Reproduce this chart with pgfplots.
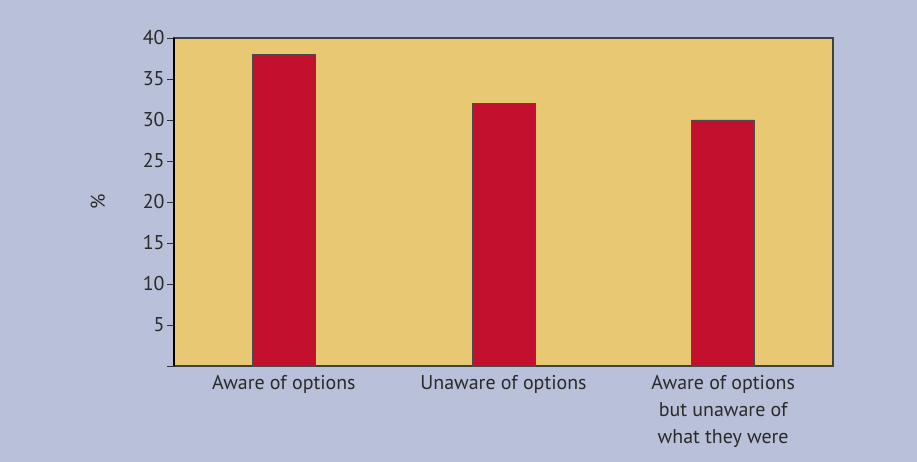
\documentclass[border=0pt]{standalone}
\usepackage{pgfplots}
\pgfplotsset{compat=1.18}
\usepackage{fontspec}
\setmainfont{PT Sans}
\definecolor{bg}{HTML}{B8C0DA}
\definecolor{plotbg}{HTML}{E8C872}
\definecolor{barred}{HTML}{C2102E}
\definecolor{txt}{HTML}{2A2A2A}
\begin{document}
\begin{tikzpicture}
\fill[bg] (0bp,0bp) rectangle (917bp,462bp);
\begin{axis}[
  at={(174bp,96bp)}, anchor=south west,
  scale only axis, width=659bp, height=328bp,
  xmin=-0.5, xmax=2.5, ymin=0, ymax=40,
  axis background/.style={fill=plotbg},
  axis line style={draw=black!75, line width=1.1bp},
  ytick={0,5,...,40},
  yticklabels={,5,10,15,20,25,30,35,40},
  ytick pos=left,
  tick align=outside,
  major tick length=7bp,
  y tick style={draw=black!80, line width=0.9bp},
  xtick={0,1,2},
  x tick style={draw=none},
  xticklabels={Aware of options, Unaware of options, {Aware of options\\but unaware of\\what they were}},
  xticklabel style={align=center, text=txt, font=\fontsize{20}{27}\selectfont, yshift=1bp},
  yticklabel style={text=txt, font=\fontsize{20}{22}\selectfont, xshift=1bp},
  /pgf/number format/assume math mode=true,
  ylabel={\%},
  every axis y label/.style={at={(axis description cs:0,0.5)}, xshift=-76bp, rotate=90, anchor=center, text=txt, font=\fontsize{20}{22}\selectfont},
  ybar, bar width=63bp,
  clip=false,
]
\addplot[fill=barred, draw=black!70, line width=0.8bp] coordinates {(0,38) (1,32) (2,30)};
\draw[black, line width=2.2bp] (rel axis cs:0,0) -- (rel axis cs:0,1);
\end{axis}
\end{tikzpicture}
\end{document}
